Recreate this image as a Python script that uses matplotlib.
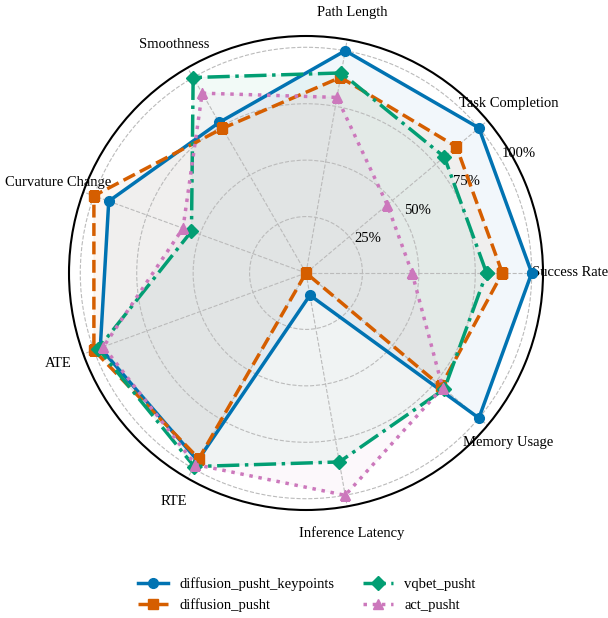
import numpy as np
import matplotlib
matplotlib.use("Agg")
import matplotlib.pyplot as plt

plt.rcParams['font.family'] = ['Liberation Serif', 'DejaVu Serif']

categories = ["Success Rate", "Task Completion", "Path Length", "Smoothness",
              "Curvature Change", "ATE", "RTE", "Inference Latency", "Memory Usage"]

diffusion_pusht_keypoints = [1.00, 1.00, 1.00, 0.77, 0.93, 0.97, 0.96, 0.10, 1.00]
diffusion_pusht           = [0.87, 0.87, 0.88, 0.74, 1.00, 1.00, 0.95, 0.00, 0.78]
vqbet_pusht               = [0.80, 0.80, 0.90, 1.00, 0.54, 0.98, 0.99, 0.85, 0.80]
act_pusht                 = [0.47, 0.47, 0.79, 0.92, 0.58, 0.955, 0.98, 1.00, 0.79]

series_names = ["diffusion_pusht_keypoints", "diffusion_pusht", "vqbet_pusht", "act_pusht"]
series_values = [diffusion_pusht_keypoints, diffusion_pusht, vqbet_pusht, act_pusht]
colors = ["#0173B2", "#D55E00", "#029E73", "#CC78BC"]
linestyles = ["-", "--", "-.", ":"]
markers = ["o", "s", "D", "^"]

r_ticks = [0.25, 0.50, 0.75, 1.00]
r_tick_labels = ["25%", "50%", "75%", "100%"]

fig = plt.figure(figsize=(6.08, 6.18), dpi=100)
ax = fig.add_axes([69/608, 1 - 510/618, 474/608, 474/618], polar=True)

n = len(categories)
angles = np.linspace(0, 2*np.pi, n, endpoint=False)
ang_closed = np.concatenate([angles, angles[:1]])

for name, vals, c, ls, mk in zip(series_names, series_values, colors, linestyles, markers):
    v = np.concatenate([vals, vals[:1]])
    ax.plot(ang_closed, v, color=c, linestyle=ls, linewidth=2.5, marker=mk,
            markersize=7, label=name)
    ax.fill(ang_closed, v, color=c, alpha=0.05)

ax.set_ylim(0, 1.05)
ax.set_yticks(r_ticks)
ax.set_yticklabels(r_tick_labels, fontsize=10.5)
ax.set_rlabel_position(30)
ax.set_xticks(angles)
ax.set_xticklabels(categories, fontsize=10.5)
ax.tick_params(axis='x', pad=9)
ax.grid(True, linestyle='--', color='#bbbbbb', linewidth=0.8)
ax.spines['polar'].set_linewidth(1.5)
ax.spines['polar'].set_color('black')

leg = fig.legend(loc='center', bbox_to_anchor=(0.505, 1 - 595/618), ncol=2,
                 frameon=False, fontsize=10.5, columnspacing=2.0)

fig.savefig("out.png", dpi=100)
